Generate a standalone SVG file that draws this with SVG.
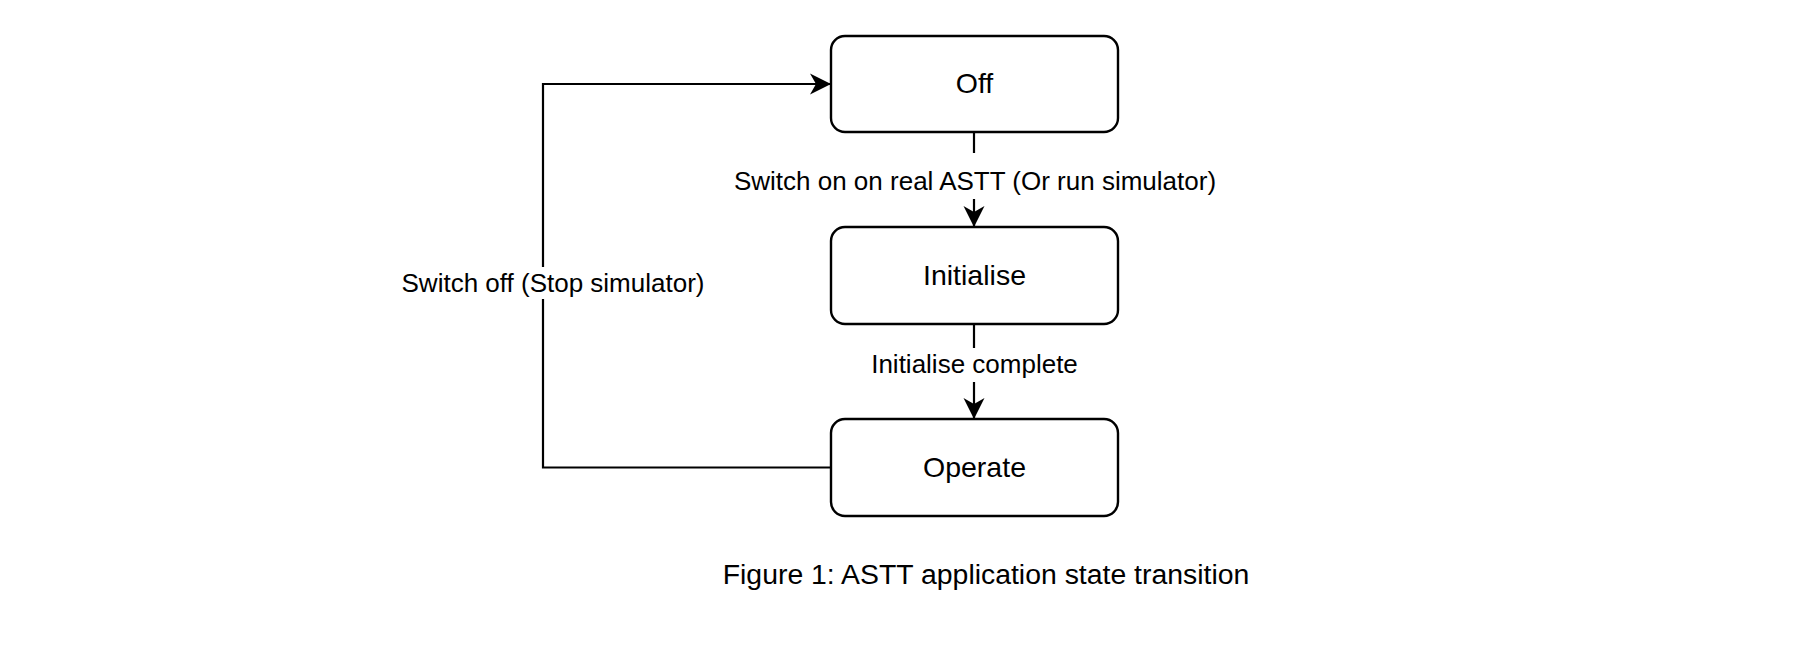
<svg xmlns="http://www.w3.org/2000/svg" width="1798" height="647" viewBox="0 0 1798 647">
<style>
.box{fill:#fff;stroke:#000;stroke-width:2.4}
.node{font-family:"Liberation Sans",Arial,sans-serif;font-size:28.5px;text-anchor:middle;fill:#000}
.lbl{font-family:"Liberation Sans",Arial,sans-serif;font-size:26px;text-anchor:middle;fill:#000}
.cap{font-family:"Liberation Sans",Arial,sans-serif;font-size:28.4px;text-anchor:middle;fill:#000}
.edge{fill:none;stroke:#000;stroke-width:2.2}
</style>
<defs>
<marker id="arr" markerUnits="userSpaceOnUse" markerWidth="24" markerHeight="24" viewBox="0 0 24 24" refX="22" refY="12" orient="auto">
<path d="M1,1.5 L22,12 L1,22.5 L7,12 Z" fill="#000"/>
</marker>
</defs>
<rect width="1798" height="647" fill="#fff"/>
<g id="connectors">
<path class="edge" d="M974,132 V227" marker-end="url(#arr)"/>
<path class="edge" d="M974,324 V419" marker-end="url(#arr)"/>
<path class="edge" d="M831,467.5 H543 V84 H831" marker-end="url(#arr)"/>
<rect x="732" y="153" width="488" height="46" fill="#fff"/>
<text class="lbl" x="975" y="190">Switch on on real ASTT (Or run simulator)</text>
<rect x="868" y="348" width="212" height="34" fill="#fff"/>
<text class="lbl" x="974.5" y="373">Initialise complete</text>
<rect x="399" y="267" width="308" height="32" fill="#fff"/>
<text class="lbl" x="553" y="292">Switch off (Stop simulator)</text>
</g>
<g id="off">
<rect class="box" x="831" y="36" width="287" height="96" rx="14"/>
<text class="node" x="974.5" y="93">Off</text>
</g>
<g id="initialise">
<rect class="box" x="831" y="227" width="287" height="97" rx="14"/>
<text class="node" x="974.5" y="285">Initialise</text>
</g>
<g id="operate">
<rect class="box" x="831" y="419" width="287" height="97" rx="14"/>
<text class="node" x="974.5" y="477">Operate</text>
</g>
<g id="caption">
<text class="cap" x="986" y="584">Figure 1: ASTT application state transition</text>
</g>
</svg>
